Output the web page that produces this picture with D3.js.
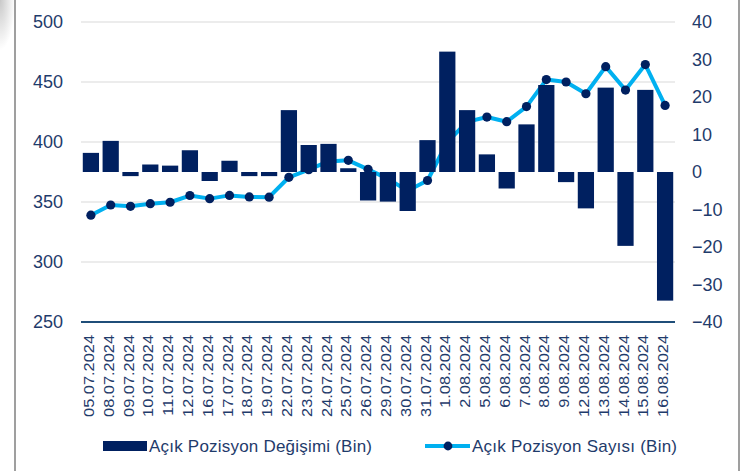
<!DOCTYPE html>
<html>
<head>
<meta charset="utf-8">
<script src="https://cdn.jsdelivr.net/npm/d3@7"></script>
<style>
  body { margin: 0; background: #fff; }
  svg { display: block; font-family: "Liberation Sans", Arial, sans-serif; }
</style>
</head>
<body>
<svg id="chart" width="754" height="471"></svg>
<script>
// categories (dates)
const dates = ["05.07.2024","08.07.2024","09.07.2024","10.07.2024","11.07.2024","12.07.2024",
  "16.07.2024","17.07.2024","18.07.2024","19.07.2024","22.07.2024","23.07.2024","24.07.2024",
  "25.07.2024","26.07.2024","29.07.2024","30.07.2024","31.07.2024","1.08.2024","2.08.2024",
  "5.08.2024","6.08.2024","7.08.2024","8.08.2024","9.08.2024","12.08.2024","13.08.2024",
  "14.08.2024","15.08.2024","16.08.2024"];

// bars: Açık Pozisyon Değişimi (Bin) - right axis
const changeValues = [5.1, 8.3, -1.1, 2.0, 1.7, 5.8, -2.4, 3.0, -1.1, -1.1, 16.5, 7.2, 7.5,
  1.0, -7.6, -7.9, -10.4, 8.5, 32.1, 16.5, 4.7, -4.4, 12.7, 23.2, -2.7, -9.7, 22.5,
  -19.7, 21.9, -34.3];

// line: Açık Pozisyon Sayısı (Bin) - left axis
const countValues = [339, 347.5, 346.4, 348.6, 349.8, 355.4, 352.8, 355.5, 354.2, 354.0,
  370.6, 376.9, 383.8, 384.7, 377.2, 369.3, 359.4, 367.9, 400.0, 416.8, 420.8, 416.9,
  429.5, 452.0, 450.0, 440.2, 462.8, 443.3, 464.5, 430.5];

const leftTicks = [250, 300, 350, 400, 450, 500];
const rightTicks = [-40, -30, -20, -10, 0, 10, 20, 30, 40];

const barName = "Açık Pozisyon Değişimi (Bin)";
const lineName = "Açık Pozisyon Sayısı (Bin)";

const navy = "#002060", cyan = "#00b0f0", tickColor = "#1f3b6b";

const svg = d3.select("#chart");
const plotLeft = 81, plotRight = 675, plotTop = 22, plotBottom = 322;

// frame + corner shadow
const defs = svg.append("defs");
const grad = defs.append("radialGradient").attr("id", "shade")
  .attr("cx", 0).attr("cy", 0).attr("r", 1);
grad.append("stop").attr("offset", "0%").attr("stop-color", "#c8c8c8");
grad.append("stop").attr("offset", "100%").attr("stop-color", "#ffffff");
svg.append("rect").attr("x", 0).attr("y", 0).attr("width", 15).attr("height", 50)
  .attr("fill", "url(#shade)");
svg.append("line").attr("x1", 15).attr("x2", 15).attr("y1", 0).attr("y2", 471)
  .attr("stroke", "#7f7f7f").attr("stroke-width", 1.5);
svg.append("line").attr("x1", 739).attr("x2", 739).attr("y1", 0).attr("y2", 471)
  .attr("stroke", "#7f7f7f").attr("stroke-width", 1.5);

// scales
const x = d3.scaleBand().domain(dates).range([plotLeft, plotRight])
  .paddingInner(0.18).paddingOuter(0.09);
const yL = d3.scaleLinear().domain([250, 500]).range([plotBottom, plotTop]);
const yR = d3.scaleLinear().domain([-40, 40]).range([plotBottom, plotTop]);

// gridlines
svg.append("g").selectAll("line").data(leftTicks.slice(1)).enter().append("line")
  .attr("x1", plotLeft).attr("x2", plotRight)
  .attr("y1", d => yL(d)).attr("y2", d => yL(d))
  .attr("stroke", "#d9d9d9").attr("stroke-width", 1.2);

// left axis
const axL = svg.append("g").attr("transform", `translate(${plotLeft},0)`)
  .call(d3.axisLeft(yL).tickValues(leftTicks).tickSize(0).tickPadding(18));
axL.select(".domain").remove();
axL.selectAll("text").attr("font-size", 18).attr("fill", tickColor)
  .attr("font-family", "Liberation Sans, Arial, sans-serif");

// right axis
const axR = svg.append("g").attr("transform", `translate(${plotRight},0)`)
  .call(d3.axisRight(yR).tickValues(rightTicks).tickSize(0).tickPadding(17));
axR.select(".domain").remove();
axR.selectAll("text").attr("font-size", 18).attr("fill", tickColor)
  .attr("font-family", "Liberation Sans, Arial, sans-serif");

// line (drawn behind the bars)
const line = d3.line()
  .x((d, i) => x(dates[i]) + x.bandwidth() / 2)
  .y(d => yL(d));
svg.append("path").datum(countValues)
  .attr("d", line).attr("fill", "none")
  .attr("stroke", cyan).attr("stroke-width", 4).attr("stroke-linejoin", "round");
svg.append("g").selectAll("circle").data(countValues).enter().append("circle")
  .attr("cx", (d, i) => x(dates[i]) + x.bandwidth() / 2)
  .attr("cy", d => yL(d))
  .attr("r", 4.6).attr("fill", navy);

// bars
svg.append("g").selectAll("rect").data(changeValues).enter().append("rect")
  .attr("x", (d, i) => x(dates[i]))
  .attr("y", d => yR(Math.max(0, d)))
  .attr("width", x.bandwidth())
  .attr("height", d => Math.abs(yR(d) - yR(0)))
  .attr("fill", navy);

// bottom axis line
svg.append("line").attr("x1", plotLeft).attr("x2", plotRight)
  .attr("y1", plotBottom).attr("y2", plotBottom)
  .attr("stroke", "#1f4e79").attr("stroke-width", 2);

// x labels, rotated
svg.append("g").selectAll("text").data(dates).enter().append("text")
  .attr("transform", d => `translate(${x(d) + x.bandwidth() / 2 + 3},${plotBottom + 13}) rotate(-90) scale(1.17,1)`)
  .attr("text-anchor", "end")
  .attr("font-size", 14)
  .attr("fill", tickColor)
  .text(d => d);

// legend
const lg = svg.append("g");
lg.append("rect").attr("x", 103).attr("y", 441).attr("width", 44).attr("height", 10)
  .attr("fill", navy);
lg.append("text").attr("x", 149).attr("y", 452).attr("font-size", 17)
  .attr("fill", tickColor).attr("textLength", 223).text(barName);
lg.append("line").attr("x1", 425).attr("x2", 470).attr("y1", 446).attr("y2", 446)
  .attr("stroke", cyan).attr("stroke-width", 4);
lg.append("circle").attr("cx", 448).attr("cy", 446).attr("r", 4.4).attr("fill", navy);
lg.append("text").attr("x", 472).attr("y", 452).attr("font-size", 17)
  .attr("fill", tickColor).attr("textLength", 205).text(lineName);
</script>
</body>
</html>
